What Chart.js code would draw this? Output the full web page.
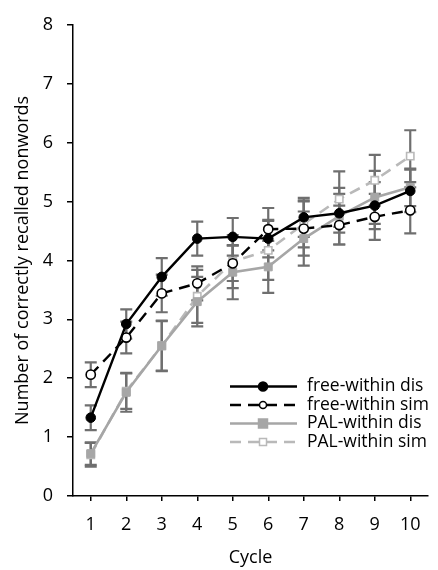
<!DOCTYPE html>
<html>
<head>
<meta charset="utf-8">
<script src="https://cdn.jsdelivr.net/npm/chart.js@4/dist/chart.umd.min.js"></script>
<style>
  html, body { margin: 0; padding: 0; background: #fff; }
  #wrap { width: 438px; height: 570px; position: relative; }
</style>
</head>
<body>
<div id="wrap"><canvas id="c" width="438" height="570"></canvas></div>
<script>
// Learning cycles on the x axis
const cycles = ['1', '2', '3', '4', '5', '6', '7', '8', '9', '10'];
const yTicks = [0, 1, 2, 3, 4, 5, 6, 7, 8];

// Mean number of correctly recalled nonwords per cycle
const freeWithinDis = [1.33, 2.92, 3.72, 4.37, 4.40, 4.37, 4.73, 4.80, 4.93, 5.18];
const freeWithinSim = [2.06, 2.69, 3.44, 3.61, 3.95, 4.53, 4.54, 4.60, 4.74, 4.85];
const palWithinDis  = [0.72, 1.76, 2.55, 3.30, 3.80, 3.89, 4.37, 4.75, 5.07, 5.24];
const palWithinSim  = [0.70, 1.78, 2.55, 3.39, 3.98, 4.17, 4.62, 5.04, 5.36, 5.77];

// Half-lengths of the error bars
const freeWithinDisErr = [0.21, 0.25, 0.32, 0.29, 0.32, 0.32, 0.33, 0.33, 0.40, 0.36];
const freeWithinSimErr = [0.21, 0.27, 0.32, 0.29, 0.30, 0.36, 0.46, 0.33, 0.39, 0.39];
const palWithinDisErr  = [0.19, 0.33, 0.43, 0.42, 0.46, 0.44, 0.46, 0.48, 0.45, 0.32];
const palWithinSimErr  = [0.20, 0.30, 0.42, 0.45, 0.45, 0.50, 0.40, 0.47, 0.43, 0.44];

const FONT = "'Open Sans', sans-serif";
const DARK = '#000000';
const GREY = '#a6a6a6';
const LIGHT_GREY = '#b9b9b9';
const ERR_COLOR = '#6f6f6f';

// Vertical error bars with caps, drawn underneath the lines
const errorBars = {
  id: 'errorBars',
  beforeDatasetsDraw(chart) {
    const { ctx, scales: { x, y } } = chart;
    ctx.save();
    ctx.strokeStyle = ERR_COLOR;
    ctx.lineWidth = 2.2;
    chart.data.datasets.forEach((ds) => {
      if (!ds.errors) return;
      ds.data.forEach((v, i) => {
        const px = x.getPixelForValue(i);
        const top = y.getPixelForValue(v + ds.errors[i]);
        const bot = y.getPixelForValue(v - ds.errors[i]);
        ctx.beginPath();
        ctx.moveTo(px, top); ctx.lineTo(px, bot);
        ctx.moveTo(px - 6, top); ctx.lineTo(px + 6, top);
        ctx.moveTo(px - 6, bot); ctx.lineTo(px + 6, bot);
        ctx.stroke();
      });
    });
    ctx.restore();
  }
};

// Legend in the lower right of the plot: line sample with its marker, then the label
const insideLegend = {
  id: 'insideLegend',
  afterDraw(chart) {
    const { ctx } = chart;
    const x0 = 230, x1 = 297, xm = 263, textX = 307;
    const rowY = [386.5, 405, 423.5, 442];
    ctx.save();
    chart.data.datasets.forEach((ds, k) => {
      const yy = rowY[k];
      ctx.strokeStyle = ds.borderColor;
      ctx.lineWidth = ds.borderWidth;
      ctx.setLineDash(ds.borderDash || []);
      ctx.beginPath();
      ctx.moveTo(x0, yy); ctx.lineTo(x1, yy);
      ctx.stroke();
      ctx.setLineDash([]);
      ctx.fillStyle = ds.pointBackgroundColor;
      ctx.strokeStyle = ds.pointBorderColor;
      ctx.lineWidth = 1.5;
      if (ds.pointStyle === 'circle') {
        const r = ds.pointBorderColor === ds.pointBackgroundColor ? 4.5 : 3.5;
        ctx.beginPath(); ctx.arc(xm, yy, r, 0, Math.PI * 2); ctx.fill(); ctx.stroke();
      } else {
        const h = ds.pointBorderColor === ds.pointBackgroundColor ? 4.5 : 3.5;
        ctx.fillRect(xm - h, yy - h, 2 * h, 2 * h);
        ctx.strokeRect(xm - h, yy - h, 2 * h, 2 * h);
      }
      ctx.fillStyle = '#000';
      ctx.font = `17.5px ${FONT}`;
      ctx.textAlign = 'left';
      ctx.textBaseline = 'middle';
      ctx.fillText(ds.label, textX, yy);
    });
    ctx.restore();
  }
};

const chart = new Chart(document.getElementById('c'), {
  type: 'line',
  data: {
    labels: cycles,
    datasets: [
      {
        label: 'free-within dis', data: freeWithinDis, errors: freeWithinDisErr,
        borderColor: DARK, borderWidth: 2.4, pointStyle: 'circle', pointRadius: 4.8,
        pointBackgroundColor: DARK, pointBorderColor: DARK, pointBorderWidth: 1
      },
      {
        label: 'free-within sim', data: freeWithinSim, errors: freeWithinSimErr,
        borderColor: DARK, borderWidth: 2.4, borderDash: [11, 7], pointStyle: 'circle', pointRadius: 4.6,
        pointBackgroundColor: '#ffffff', pointBorderColor: DARK, pointBorderWidth: 1.6
      },
      {
        label: 'PAL-within dis', data: palWithinDis, errors: palWithinDisErr,
        borderColor: GREY, borderWidth: 2.6, pointStyle: 'rect', pointRadius: 5.6,
        pointBackgroundColor: GREY, pointBorderColor: GREY, pointBorderWidth: 1
      },
      {
        label: 'PAL-within sim', data: palWithinSim, errors: palWithinSimErr,
        borderColor: LIGHT_GREY, borderWidth: 2.6, borderDash: [11, 7], pointStyle: 'rect', pointRadius: 5.2,
        pointBackgroundColor: '#ffffff', pointBorderColor: LIGHT_GREY, pointBorderWidth: 1.6
      }
    ]
  },
  options: {
    responsive: false,
    animation: false,
    layout: { padding: { top: 15, right: 10, left: 0, bottom: 0 } },
    plugins: { legend: { display: false }, tooltip: { enabled: false } },
    elements: { line: { tension: 0 } },
    scales: {
      x: {
        type: 'category',
        offset: true,
        grid: { offset: false, drawOnChartArea: false, color: '#000', lineWidth: 1.5, tickLength: 5 },
        border: { color: '#000', width: 1.5 },
        ticks: { color: '#000', font: { family: FONT, size: 18 }, padding: 13, maxRotation: 0, autoSkip: false },
        title: { display: true, text: 'Cycle', color: '#000', font: { family: FONT, size: 18 }, padding: { top: 0, bottom: 1 } },
        afterFit(s) { s.height = 74; }
      },
      y: {
        min: 0, max: 8,
        afterBuildTicks(s) { s.ticks = yTicks.map(v => ({ value: v })); },
        grid: { drawOnChartArea: false, color: '#000', lineWidth: 1.5, tickLength: 6 },
        border: { color: '#000', width: 1.5 },
        ticks: { color: '#000', font: { family: FONT, size: 18 }, padding: 14 },
        title: { display: true, text: 'Number of correctly recalled nonwords', color: '#000', font: { family: FONT, size: 18 }, padding: { top: 12, bottom: 0 } },
        afterFit(s) { s.width = 73; }
      }
    }
  },
  plugins: [errorBars, insideLegend]
});
</script>
</body>
</html>
